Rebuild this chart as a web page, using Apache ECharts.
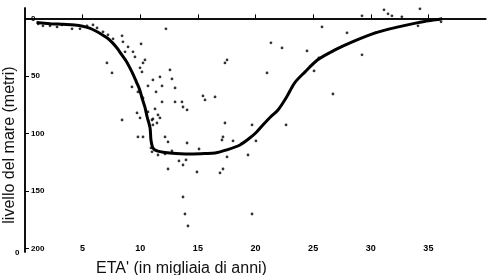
<!DOCTYPE html>
<html>
<head>
<meta charset="utf-8">
<script src="https://cdn.jsdelivr.net/npm/echarts@6/dist/echarts.min.js"></script>
<style>html,body{margin:0;padding:0;background:#fff}#c{width:500px;height:275px}</style>
</head>
<body>
<div id="c"></div>
<script>
// sea-level curve (age in thousands of years, level in metres)
var curveAge = [1.0,2.2,3.3,4.3,5.0,5.6,6.1,6.7,7.2,7.6,8.0,8.4,8.8,9.1,9.4,9.7,9.95,10.15,10.4,10.6,10.85,10.93,11.1,11.45,12.15,13.5,14.6,15.6,16.5,17.5,18.65,19.5,20.1,20.7,21.3,21.95,22.7,23.4,24.3,25.4,26.9,28.4,30.4,32.4,34.1,35.6,36.2];
var curveLevel = [-3.7,-4.6,-5.2,-5.8,-6.8,-8.5,-10.8,-14.3,-17.5,-21.3,-26,-31.7,-37.5,-43,-49,-56,-62,-69,-77,-85.7,-95,-105.7,-112.6,-115.2,-116.5,-117.6,-117.8,-117.5,-117,-114.3,-110,-104,-98.7,-92,-85.7,-79.6,-68.3,-56,-46.5,-36,-27.4,-20.4,-12.6,-7.4,-3.7,-1.3,-0.4];
// measured samples
var dotAge = [1.15,1.56,2.17,2.78,3.21,4.08,4.77,5.38,5.9,6.25,6.77,7.2,7.64,8.42,8.5,8.94,8.68,9.37,10.07,9.54,10.24,10.41,9.98,10.15,7.11,7.55,9.28,9.8,10.67,11.1,10.24,9.72,9.98,8.42,10.67,12.23,11.71,11.89,12.58,12.75,13.02,13.62,13.71,14.06,13.02,11.89,11.54,11.71,11.02,11.45,15.44,16.49,15.62,17.35,17.53,17.35,12.15,10.24,9.8,21.34,21,11.37,11.28,11.1,11.1,19.7,22.3,24.47,25.77,27.94,25.5,25.08,29.24,26.72,22.65,29.24,31.15,31.5,31.84,32.7,34.27,34.1,36.1,30.4,12.41,14.06,10.93,11.02,11.54,12.15,12.75,15.1,17.09,18.05,17.18,20.04,19.35,17.53,13.36,13.97,13.71,12.41,14.92,17.18,16.92,13.71,13.88,14.14,19.7];
var dotLevel = [-4.8,-6.5,-6.5,-7.4,-5.7,-9.1,-9.1,-6.5,-5.7,-8.3,-11.7,-14.3,-17.8,-15.2,-20.4,-24.8,-29.1,-29.1,-22.2,-33.5,-38.7,-36.1,-43,-46.5,-38.7,-47.4,-59.6,-63.9,-58.7,-53.5,-69.1,-82.2,-86.5,-88.3,-81.3,-9.1,-50.9,-58.7,-44.8,-52.6,-60.4,-72.6,-77,-79.6,-72.6,-72.6,-83.9,-86.5,-88.3,-90.9,-67.4,-68.3,-70.9,-90.9,-36.1,-38.7,-103,-103,-103,-21.3,-47.4,-63.9,-78.7,-87.4,-92.6,-92.6,-25.7,-28.3,-7.4,-12.6,-34.3,-45.7,-31.7,-65.7,-92.6,2.2,7.4,3.9,2.2,1.3,8.3,-6.5,-3,-12.6,-107.4,-108.3,-112.6,-116,-118.7,-117.8,-115.2,-113.5,-105.7,-106.5,-103,-106.5,-118.7,-120.4,-123.9,-123,-127.4,-130.9,-133.5,-130.9,-134.3,-155.2,-170,-180.4,-170];
// axis ticks
var xTicks = [5,10,15,20,25,30,35];
var yTicks = [0,-50,-100,-150,-200];
var yTickLabels = ['0','50','100','150','200'];

var curve = curveAge.map(function(a,i){return [a,curveLevel[i]];});
var dots = dotAge.map(function(a,i){return [a,dotLevel[i]];});

var chart = echarts.init(document.getElementById('c'));
chart.setOption({
  animation:false,
  backgroundColor:'#fff',
  grid:{left:25,right:14,top:8,bottom:23,outerBoundsMode:'none',containLabel:false},
  xAxis:{
    type:'value',min:0,max:40,
    splitLine:{show:false},
    axisLine:{lineStyle:{color:'#000',width:1.5}},
    axisTick:{inside:true,length:4,customValues:xTicks,lineStyle:{color:'#000',width:1}},
    axisLabel:{inside:true,margin:-1,customValues:xTicks,color:'#000',fontSize:9,fontWeight:'bold',fontFamily:'Liberation Sans'},
    name:"ETA' (in migliaia di anni)",nameLocation:'middle',nameGap:9,
    nameTextStyle:{color:'#111',fontSize:16,fontFamily:'Liberation Sans',padding:[0,148,0,0]}
  },
  yAxis:[{
    type:'value',min:-203,max:9,
    splitLine:{show:false},
    axisLine:{onZero:false,lineStyle:{color:'#000',width:1.5}},
    axisTick:{inside:true,length:4,customValues:yTicks,lineStyle:{color:'#000',width:1}},
    axisLabel:{inside:true,margin:6,customValues:yTicks,color:'#000',fontSize:8,fontWeight:'bold',fontFamily:'Liberation Sans',
      formatter:function(v){var i=yTicks.indexOf(v);return i>=0?yTickLabels[i]:'';}},
    name:'livello del mare (metri)',nameLocation:'middle',nameGap:6,
    nameTextStyle:{color:'#111',fontSize:16,fontFamily:'Liberation Sans',padding:[0,30,0,0]}
  },{
    type:'value',min:-203,max:9,position:'right',
    splitLine:{show:false},axisTick:{show:false},axisLabel:{show:false},
    axisLine:{show:true,lineStyle:{color:'#000',width:1.5}}
  }],
  graphic:[{type:'text',left:15,top:249,style:{text:'0',fontSize:8,fontWeight:'bold',fill:'#000',fontFamily:'Liberation Sans'}}],
  series:[{
    type:'line',data:curve,smooth:0.3,symbol:'none',
    lineStyle:{color:'#000',width:3},
    markLine:{silent:true,symbol:'none',label:{show:false},lineStyle:{color:'#000',width:1.5,type:'solid'},data:[{yAxis:0}]}
  },{
    type:'scatter',data:dots,symbolSize:2.8,itemStyle:{color:'#000'}
  }]
});
</script>
</body>
</html>
